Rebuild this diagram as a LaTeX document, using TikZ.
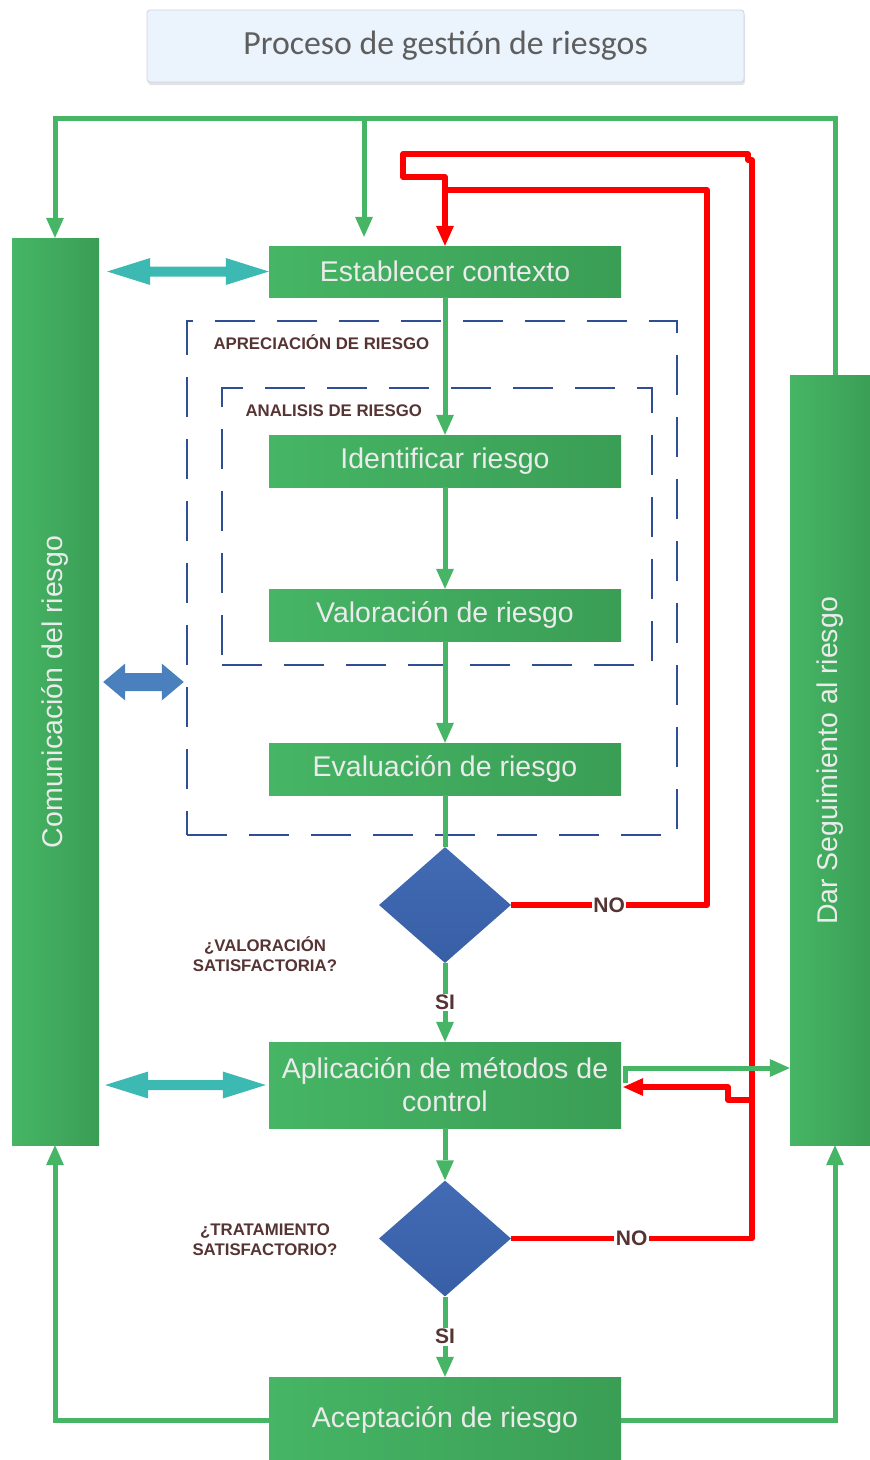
\documentclass[tikz,border=0pt]{standalone}
\usepackage{fontspec}
\setmainfont{Liberation Sans}
\newfontfamily\titlefont{Carlito}
\usetikzlibrary{arrows.meta,shapes.geometric,shadows,calc}

\definecolor{boxlight}{HTML}{46B565}
\definecolor{boxdark}{HTML}{3A9E55}
\definecolor{flowgreen}{HTML}{47B566}
\definecolor{flowred}{HTML}{FF0000}
\definecolor{linkcyan}{HTML}{3DB9B3}
\definecolor{linkblue}{HTML}{4A80BE}
\definecolor{decisiontop}{HTML}{426BB4}
\definecolor{decisionbot}{HTML}{385FA6}
\definecolor{frameblue}{HTML}{2F4E94}
\definecolor{notecolor}{HTML}{573434}
\definecolor{titlefill}{HTML}{EBF3FD}
\definecolor{titleline}{HTML}{C9D5E3}
\definecolor{titletext}{HTML}{5E5E5E}

% filled two-headed block arrow: left tip, right tip, head length,
% head half width, shaft half width, colour
\newcommand{\blockdoublearrow}[6]{%
  \fill[#6] (#1) -- ++(#3,-#4) -- ++(0,{#4-#5}) -- ($(#2)+(-#3,-#5)$)
    -- ++(0,{#5-#4}) -- (#2) -- ++(-#3,#4) -- ++(0,{#5-#4})
    -- ($(#1)+(#3,#5)$) -- ++(0,{#4-#5}) -- cycle;}

\tikzset{
  stepbox/.style={rectangle, inner sep=0pt, draw=none,
    left color=boxlight, right color=boxdark,
    minimum width=352, minimum height=52, align=center,
    text=white!92!black, font=\fontsize{28.5}{33}\selectfont},
  sidebox/.style={rectangle, inner sep=0pt, draw=none,
    left color=boxlight, right color=boxdark},
  sidetext/.style={rotate=90, text=white!92!black,
    font=\fontsize{28.5}{33}\selectfont},
  decision/.style={diamond, inner sep=0pt, aspect=1.138,
    minimum width=132, minimum height=116,
    top color=decisiontop, bottom color=decisionbot},
  frame/.style={rectangle, inner sep=0pt, draw=frameblue,
    line width=2.5pt, dash pattern=on 40pt off 22pt},
  note/.style={text=notecolor, align=center,
    font=\bfseries\fontsize{16.8}{20}\selectfont},
  answer/.style={fill=white, inner sep=1.5pt, text=notecolor,
    font=\bfseries\fontsize{21}{21}\selectfont},
  gline/.style={draw=flowgreen, line width=5pt},
  rline/.style={draw=flowred, line width=5.5pt, line join=round},
  titlebox/.style={rectangle, rounded corners=3pt, fill=titlefill,
    draw=titleline, line width=0.8pt,
    minimum width=597, minimum height=72,
    drop shadow={shadow xshift=1pt, shadow yshift=-3pt, opacity=0.22},
    text=titletext, font=\titlefont\fontsize{33.8}{36}\selectfont}
}

\begin{document}
\begin{tikzpicture}[x=1pt, y=-1pt,
  >={Triangle[width=18pt,length=20pt,line width=0pt]}]
\useasboundingbox (0,0) rectangle (870,1460);

% heading
\node[titlebox] (title) at (445.5,46) {Proceso de gestión de riesgos};

% dashed frames
\node[frame, minimum width=490, minimum height=514] (apbox) at (432,578) {};
\node[frame, minimum width=430, minimum height=277] (anbox) at (437,526.5) {};
\node[note, anchor=west] (aplabel) at (210,342) {APRECIACIÓN DE RIESGO};
\node[note, anchor=west] (anlabel) at (242,411) {ANALISIS DE RIESGO};

% side columns
\node[sidebox, minimum width=87, minimum height=907] (com) at (55.5,691.5) {};
\node[sidetext] (comtext) at (55,692) {Comunicación del riesgo};
\node[sidebox, minimum width=84, minimum height=770] (seg) at (832,760) {};
\node[sidetext] (segtext) at (830,761) {Dar Seguimiento al riesgo};

% process steps
\node[stepbox, minimum height=51] (est) at (445,271.5) {Establecer contexto};
\node[stepbox] (ide) at (445,461) {Identificar riesgo};
\node[stepbox] (val) at (445,615) {Valoración de riesgo};
\node[stepbox] (eva) at (445,769) {Evaluación de riesgo};
\node[decision] (d1) at (445,905) {};
\node[stepbox, minimum height=86] (apl) at (445,1085)
  {Aplicación de métodos de\\control};
\node[decision] (d2) at (445,1238.5) {};
\node[stepbox, minimum height=86] (ace) at (445,1420) {Aceptación de riesgo};

\node[note] (q1) at (265,954) {¿VALORACIÓN\\SATISFACTORIA?};
\node[note] (q2) at (265,1240) {¿TRATAMIENTO\\SATISFACTORIO?};

% helper points of the loops
\coordinate (topL) at (55,118);
\coordinate (topM) at (364,118);
\coordinate (topR) at (835,118);
\coordinate (gH) at (700,1068);
\coordinate (rA) at (707,190);
\coordinate (rB) at (752,160);
\coordinate (rC) at (403,154);
\coordinate (rD) at (445,177);
\coordinate (rE) at (752,1100);

% communication links
\blockdoublearrow{$(com.east |- est.west)+(8,0)$}{est.west}{43}{13.5}{5}{linkcyan}
\blockdoublearrow{$(com.east |- apl.west)+(6,0)$}{$(apl.west)+(-3,0)$}{43}{13.5}{5}{linkcyan}
\blockdoublearrow{$(com.east)+(4,-9.5)$}{$(apbox.west |- com.east)+(-2,-9.5)$}{22}{18.5}{9}{linkblue}

% red return paths
\draw[rline] (d1.east) -- node[answer]{NO} (d1.east -| rA) -- (rA)
  -- (est.north |- rA);
\draw[rline,->] (d2.east) -- node[answer]{NO} (d2.east -| rB) -- (rB)
  -- ++(-4,0) -- ++(0,-6) -- (rC) -- ++(0,23) -- (rD) -- (est.north);
\draw[rline,->] (rE) -- ++(-24,0) -- ++(0,-13) -- ($(apl.east)+(2,2)$);

% green flow
\draw[gline,->] (seg.north -| topR) -- (topR) -- (topL) -- (com.north -| topL);
\draw[gline,->,shorten >=9pt] (topM) -- (topM |- est.north);
\draw[gline,->] (est) -- (ide);
\draw[gline,->] (ide) -- (val);
\draw[gline,->] (val) -- (eva);
\draw[gline] (eva) -- (d1);
\draw[gline,->] (d1) -- node[answer]{SI} (apl);
\draw[gline,->] (apl) -- (d2);
\draw[gline,->] (d2) -- node[answer]{SI} (ace);
\draw[gline,->] (ace.west) -| (com.south -| topL);
\draw[gline,->] (ace.east) -| (seg.south -| topR);
\draw[gline,->] ($(apl.east)+(4,-2)$) |- (gH -| seg.west);
\end{tikzpicture}
\end{document}
